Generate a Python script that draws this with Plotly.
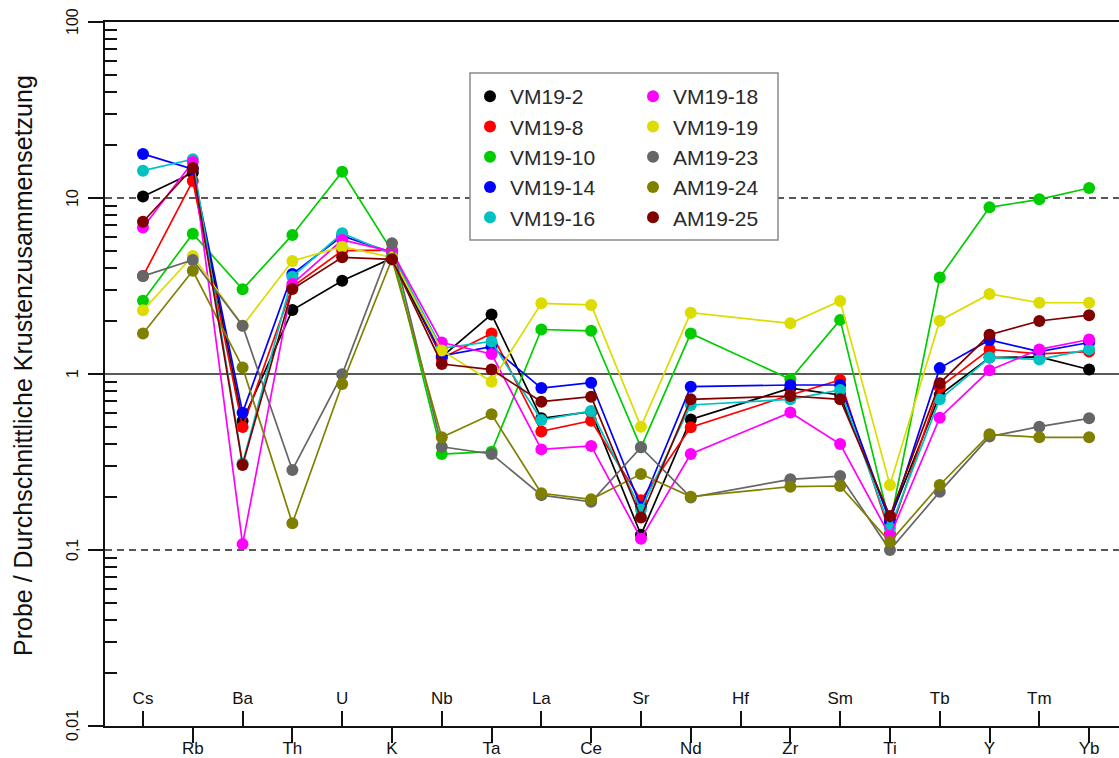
import math
import plotly.graph_objects as go

# Elements in spider-diagram order (Hf has no measured values)
ELEMENTS = ["Cs", "Rb", "Ba", "Th", "U", "K", "Nb", "Ta", "La", "Ce",
            "Sr", "Nd", "Hf", "Zr", "Sm", "Ti", "Tb", "Y", "Tm", "Yb"]

SAMPLES = ["VM19-2", "VM19-8", "VM19-10", "VM19-14", "VM19-16",
           "VM19-18", "VM19-19", "AM19-23", "AM19-24", "AM19-25"]

COLORS = ["#000000", "#FF0000", "#00CD00", "#0000FF", "#00C2C2",
          "#FF00FF", "#DCDC00", "#666666", "#808000", "#800000"]

# Sample / average crustal composition
VM19_2 = [10.2, 13.9, 0.54, 2.31, 3.39, 4.55, 1.25, 2.18, 0.56, 0.61,
          0.122, 0.552, None, 0.83, 0.76, 0.15, 0.76, 1.24, 1.25, 1.06]
VM19_8 = [3.6, 12.5, 0.50, 3.13, 5.02, 5.06, 1.23, 1.70, 0.472, 0.543,
          0.192, 0.498, None, 0.76, 0.925, 0.124, 0.84, 1.38, 1.30, 1.34]
VM19_10 = [2.61, 6.27, 3.03, 6.17, 14.1, 5.0, 0.351, 0.362, 1.79, 1.76,
           0.383, 1.70, None, 0.933, 2.03, 0.14, 3.53, 8.85, 9.83, 11.4]
VM19_14 = [17.8, 14.6, 0.603, 3.70, 6.08, 4.9, 1.27, 1.43, 0.832, 0.893,
           0.176, 0.847, None, 0.866, 0.866, 0.145, 1.08, 1.56, 1.34, 1.51]
VM19_16 = [14.3, 16.6, 0.31, 3.57, 6.3, 4.8, 1.40, 1.53, 0.548, 0.616,
           0.17, 0.667, None, 0.718, 0.811, 0.133, 0.718, 1.24, 1.21, 1.38]
VM19_18 = [6.8, 16.0, 0.108, 3.25, 5.77, 4.96, 1.51, 1.30, 0.373, 0.390,
           0.116, 0.351, None, 0.605, 0.40, 0.12, 0.565, 1.05, 1.38, 1.57]
VM19_19 = [2.30, 4.68, 1.88, 4.39, 5.29, 4.6, 1.36, 0.904, 2.52, 2.47,
           0.502, 2.23, None, 1.94, 2.60, 0.234, 2.01, 2.85, 2.54, 2.54]
AM19_23 = [3.6, 4.44, 1.88, 0.285, 0.996, 5.53, 0.386, 0.351, 0.205, 0.188,
           0.383, 0.199, None, 0.252, 0.263, 0.100, 0.214, 0.441, 0.502, 0.56]
AM19_24 = [1.70, 3.86, 1.09, 0.142, 0.877, 4.5, 0.437, 0.59, 0.210, 0.194,
           0.27, 0.201, None, 0.229, 0.231, 0.111, 0.234, 0.454, 0.437, 0.437]
AM19_25 = [7.33, 14.8, 0.304, 3.04, 4.60, 4.48, 1.14, 1.06, 0.696, 0.743,
           0.153, 0.718, None, 0.75, 0.718, 0.156, 0.885, 1.67, 2.0, 2.16]

SERIES = [VM19_2, VM19_8, VM19_10, VM19_14, VM19_16,
          VM19_18, VM19_19, AM19_23, AM19_24, AM19_25]

Y_TICKS = [0.01, 0.1, 1, 10, 100]
Y_TICK_TEXT = ["0,01", "0,1", "1", "10", "100"]
Y_TITLE = "Probe / Durchschnittliche Krustenzusammensetzung"

FONT = "Liberation Sans, Arial, sans-serif"
W, H = 1119, 758
ML, MR, MT, MB = 105, 0, 22, 32
PW, PH = W - ML - MR, H - MT - MB

pos = list(range(1, len(ELEMENTS) + 1))
upper_pos = pos[0::2]
upper_lab = ELEMENTS[0::2]
lower_pos = pos[1::2]
lower_lab = ELEMENTS[1::2]
x_range = [0.237, 20.6]

fig = go.Figure()

for name, vals, col in zip(SAMPLES, SERIES, COLORS):
    fig.add_trace(go.Scatter(
        x=pos, y=vals, mode="lines+markers", name=name,
        connectgaps=True, showlegend=False,
        line=dict(color=col, width=1.7),
        marker=dict(color=col, size=12),
    ))

# legend entries (dot only), split into two columns; they also
# attach the extra axis carrying the upper element row
for i, (name, col) in enumerate(zip(SAMPLES, COLORS)):
    fig.add_trace(go.Scatter(
        x=[None], y=[None], mode="markers", name=name,
        marker=dict(color=col, size=12),
        legend="legend" if i < 5 else "legend2",
        xaxis="x2", yaxis="y",
        showlegend=True, hoverinfo="skip",
    ))

def px_x(p):
    return (p - ML) / PW

def px_y(p):
    return (H - MB - p) / PH

shapes = []
# reference levels at 10, 1 and 0.1
for lvl, dash in [(10, "7px,5px"), (1, "solid"), (0.1, "7px,5px")]:
    shapes.append(dict(type="line", xref="paper", yref="y", x0=0, x1=1,
                       y0=lvl, y1=lvl, layer="below",
                       line=dict(color="#222222", width=1.6, dash=dash)))
# legend frame
shapes.append(dict(type="rect", xref="paper", yref="paper",
                   x0=px_x(470), x1=px_x(778), y0=px_y(240), y1=px_y(73),
                   fillcolor="white", layer="above",
                   line=dict(color="#8a8a8a", width=1.5)))

minor_vals = [m * 10 ** e for e in range(-2, 2) for m in range(2, 10)]

leg_font = dict(family=FONT, size=21, color="#2a2a2a")
tick_font = dict(family=FONT, size=17, color="#111111")

# rotated decade labels left of the y axis (annotation y on a log axis
# is given as log10 of the value)
annotations = [dict(
    text=txt, textangle=-90, xref="paper", yref="y", x=px_x(72),
    y=math.log10(val), xanchor="center", yanchor="middle", showarrow=False,
    font=dict(family=FONT, size=16, color="#111111"),
) for val, txt in zip(Y_TICKS, Y_TICK_TEXT)]
annotations.append(dict(
    text=Y_TITLE, textangle=-90, xref="paper", yref="paper",
    x=px_x(23), y=px_y(366), xanchor="center", yanchor="middle",
    showarrow=False, font=dict(family=FONT, size=25, color="#111111"),
))

fig.update_layout(
    width=W, height=H,
    margin=dict(l=ML, r=MR, t=MT, b=MB, autoexpand=False),
    paper_bgcolor="white", plot_bgcolor="white",
    font=dict(family=FONT, color="#111111"),
    showlegend=True,
    shapes=shapes,
    xaxis=dict(
        range=x_range, tickmode="array", tickvals=lower_pos, ticktext=lower_lab,
        ticks="outside", ticklen=15, tickwidth=1.6, tickcolor="#111111",
        showline=True, mirror=True, linewidth=2, linecolor="#111111",
        showgrid=False, zeroline=False, automargin=False,
        ticklabelstandoff=-9,
        tickfont=tick_font,
    ),
    # upper element row: a top-sided axis sitting on the bottom edge,
    # so its ticks and labels point up into the plot
    xaxis2=dict(
        overlaying="x", anchor="free", position=0, side="top", range=x_range,
        tickmode="array", tickvals=upper_pos, ticktext=upper_lab,
        ticks="outside", ticklen=15, tickwidth=1.6, tickcolor="#111111",
        showline=False, ticklabelstandoff=0,
        showgrid=False, zeroline=False, automargin=False,
        tickfont=tick_font,
    ),
    yaxis=dict(
        type="log", range=[-2, 2], tickmode="array",
        tickvals=Y_TICKS, showticklabels=False,
        ticks="outside", ticklen=15, tickwidth=1.6, tickcolor="#111111",
        showline=True, linewidth=2, linecolor="#111111",
        showgrid=False, zeroline=False, automargin=False,
        minor=dict(tickmode="array", tickvals=minor_vals, ticks="inside",
                   ticklen=12, tickwidth=1.6, tickcolor="#111111",
                   showgrid=False),
    ),
    legend=dict(
        x=px_x(470), y=px_y(76), xanchor="left", yanchor="top",
        bgcolor="rgba(0,0,0,0)", borderwidth=0, font=leg_font,
        itemwidth=30,
    ),
    legend2=dict(
        x=px_x(633), y=px_y(76), xanchor="left", yanchor="top",
        bgcolor="rgba(0,0,0,0)", borderwidth=0, font=leg_font,
        itemwidth=30,
    ),
    annotations=annotations,
)

fig.write_html("out.html")
